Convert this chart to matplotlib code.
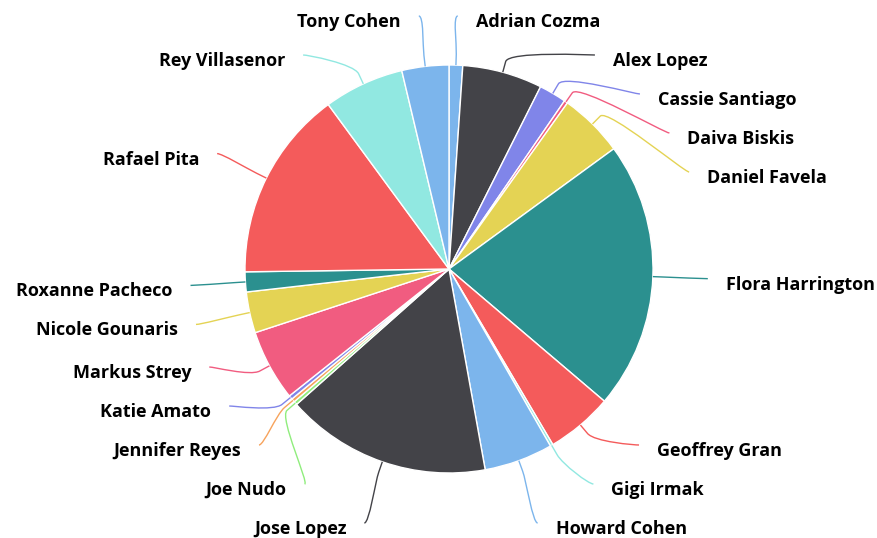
import numpy as np
import matplotlib
matplotlib.use('Agg')
import matplotlib.pyplot as plt
from matplotlib.path import Path
from matplotlib.patches import PathPatch

# slice data, clockwise from 12 o'clock
names = ['Adrian Cozma', 'Alex Lopez', 'Cassie Santiago', 'Daiva Biskis', 'Daniel Favela',
         'Flora Harrington', 'Geoffrey Gran', 'Gigi Irmak', 'Howard Cohen', 'Jose Lopez',
         'Joe Nudo', 'Jennifer Reyes', 'Katie Amato', 'Markus Strey', 'Nicole Gounaris',
         'Roxanne Pacheco', 'Rafael Pita', 'Rey Villasenor', 'Tony Cohen']
values = [1.08, 6.33, 2.17, 0.28, 5.11,
          21.25, 5.28, 0.22, 5.44, 16.28,
          0.28, 0.28, 0.31, 5.64, 3.25,
          1.58, 15.14, 6.36, 3.72]
colors = ['#7cb5ec', '#434348', '#8085e9', '#f15c80', '#e4d354',
          '#2b908f', '#f45b5b', '#91e8e1', '#7cb5ec', '#434348',
          '#90ed7d', '#f7a35c', '#8085e9', '#f15c80', '#e4d354',
          '#2b908f', '#f45b5b', '#91e8e1', '#7cb5ec']

W, H = 878, 538
cx, cy, r = 449, 269, 204
dist = 55          # label distance from pie edge
gap = 39           # min vertical spacing between labels
top, bottom = 16, 523

fig = plt.figure(figsize=(W / 100, H / 100), dpi=100)
ax = fig.add_axes([0, 0, 1, 1])

ax.pie(values, colors=colors, center=(cx, cy), radius=r, startangle=-90, counterclock=True,
       wedgeprops={'edgecolor': 'white', 'linewidth': 1})
ax.set_xlim(0, W)
ax.set_ylim(H, 0)
ax.set_aspect('auto')
ax.axis('off')

vals = np.array(values)
fr = vals / vals.sum()
mids = (np.cumsum(fr) - fr / 2) * 2 * np.pi
R = r + dist
nat_y = cy - R * np.cos(mids)


def spread(idx):
    idx = sorted(idx, key=lambda i: nat_y[i])
    ys = [nat_y[i] for i in idx]
    for k in range(len(ys)):
        lo = top if k == 0 else ys[k - 1] + gap
        ys[k] = max(ys[k], lo)
    for k in range(len(ys) - 1, -1, -1):
        hi = bottom if k == len(ys) - 1 else ys[k + 1] - gap
        ys[k] = min(ys[k], hi)
    return dict(zip(idx, ys))


right = [i for i in range(len(vals)) if mids[i] < np.pi]
left = [i for i in range(len(vals)) if mids[i] >= np.pi]
final_y = {}
final_y.update(spread(right))
final_y.update(spread(left))

for i in range(len(vals)):
    side = 1 if mids[i] < np.pi else -1
    y = final_y[i]
    y_use = nat_y[i] if (y <= top + 1 or y >= bottom - 1) else y
    dy = y_use - cy
    x = cx + side * np.sqrt(max(R ** 2 - dy ** 2, 0))

    ux, uy = np.sin(mids[i]), -np.cos(mids[i])
    touch = (cx + r * ux, cy + r * uy)
    brk = (cx + (r + 11) * ux, cy + (r + 11) * uy)
    verts = [(x, y), (x - side * 5, y), (2 * brk[0] - touch[0], 2 * brk[1] - touch[1]), brk, touch]
    codes = [Path.MOVETO, Path.CURVE4, Path.CURVE4, Path.CURVE4, Path.LINETO]
    ax.add_patch(PathPatch(Path(verts, codes), fill=False, edgecolor=colors[i], linewidth=1))

    ax.text(x + side * 18, y + 11, names[i], ha='left' if side > 0 else 'right', va='baseline',
            fontsize=13, fontweight='bold', family='Open Sans', color='#000000')

fig.savefig('out.png', dpi=100)
